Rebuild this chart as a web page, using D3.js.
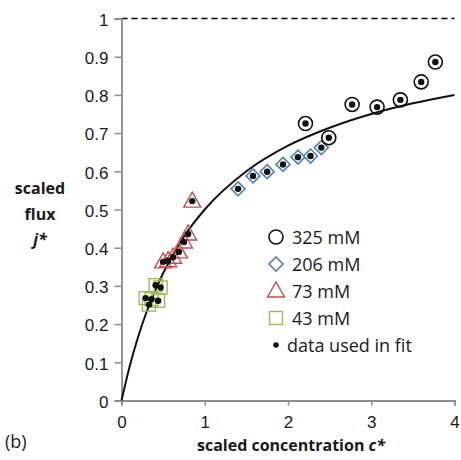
<!DOCTYPE html>
<html>
<head>
<meta charset="utf-8">
<script src="https://cdn.jsdelivr.net/npm/d3@7"></script>
<style>
  body { margin: 0; background: #fff; }
  svg { font-family: "Open Sans", "Noto Sans", sans-serif; }
</style>
</head>
<body>
<svg id="chart" width="461" height="460"></svg>
<script>
// scaled concentration c* / scaled flux j*
const c325 = [2.21, 2.49, 2.77, 3.07, 3.35, 3.60, 3.77];
const j325 = [0.725, 0.688, 0.775, 0.768, 0.787, 0.834, 0.886];
const c206 = [1.40, 1.58, 1.75, 1.94, 2.12, 2.27, 2.40];
const j206 = [0.554, 0.588, 0.599, 0.618, 0.637, 0.640, 0.662];
const c73 = [0.50, 0.56, 0.62, 0.69, 0.75, 0.80, 0.85];
const j73 = [0.363, 0.366, 0.375, 0.389, 0.415, 0.436, 0.522];
const c43 = [0.29, 0.33, 0.36, 0.41, 0.44, 0.47];
const j43 = [0.268, 0.251, 0.265, 0.302, 0.261, 0.296];

// fitted curve
const fitC = [0, 0.1, 0.2, 0.3, 0.5, 0.75, 1, 1.5, 2, 2.5, 3, 3.5, 4];
const fitJ = [0, 0.091, 0.167, 0.231, 0.333, 0.429, 0.5, 0.6, 0.667, 0.714, 0.75, 0.778, 0.8];

const xTicks = [0, 1, 2, 3, 4];
const yTicks = [0, 0.1, 0.2, 0.3, 0.4, 0.5, 0.6, 0.7, 0.8, 0.9, 1];
const legendLabels = ["325 mM", "206 mM", "73 mM", "43 mM", "data used in fit"];

const svg = d3.select("#chart");
const x = d3.scaleLinear().domain([0, 4]).range([121.5, 454.5]);
const y = d3.scaleLinear().domain([0, 1]).range([400.5, 18.5]);

const axisColor = "#8c8c8c";

// dashed limit at j* = 1
svg.append("line")
  .attr("x1", x(0)).attr("x2", x(4))
  .attr("y1", y(1)).attr("y2", y(1))
  .attr("stroke", "#000").attr("stroke-width", 1.5)
  .attr("stroke-dasharray", "6,4");

const xAxis = svg.append("g")
  .attr("transform", `translate(0,${y(0)})`)
  .call(d3.axisBottom(x).tickValues(xTicks).tickFormat(d3.format("d")).tickSize(5).tickPadding(10));
const yAxis = svg.append("g")
  .attr("transform", `translate(${x(0)},0)`)
  .call(d3.axisLeft(y).tickValues(yTicks).tickFormat(d => d === 0 || d === 1 ? d : d3.format(".1f")(d)).tickSize(7).tickPadding(6));

[xAxis, yAxis].forEach(g => {
  g.select(".domain").attr("stroke", axisColor).attr("stroke-width", 1.8);
  g.selectAll(".tick line").attr("stroke", axisColor).attr("stroke-width", 1.5);
  g.selectAll(".tick text").attr("fill", "#1a1a1a").style("font-size", "17px");
});
yAxis.selectAll(".tick text").attr("dy", "0.4em");

// fit line
const line = d3.line()
  .x((d, i) => x(fitC[i]))
  .y((d, i) => y(fitJ[i]))
  .curve(d3.curveMonotoneX);
svg.append("path")
  .datum(fitC)
  .attr("d", line)
  .attr("fill", "none")
  .attr("stroke", "#111")
  .attr("stroke-width", 2);

const blue = "#4f81bd", red = "#c0504d", green = "#9bbb59";

function marker(g, kind) {
  if (kind === "circle") {
    g.append("circle").attr("r", 7).attr("fill", "none").attr("stroke", "#111").attr("stroke-width", 1.6);
  } else if (kind === "diamond") {
    g.append("path").attr("d", "M0,-7L7,0L0,7L-7,0Z").attr("fill", "none").attr("stroke", blue).attr("stroke-width", 1.6);
  } else if (kind === "triangle") {
    g.append("path").attr("d", "M0,-9L8.5,6L-8.5,6Z").attr("fill", "none").attr("stroke", red).attr("stroke-width", 1.4);
  } else if (kind === "square") {
    g.append("rect").attr("x", -6.5).attr("y", -6.5).attr("width", 13).attr("height", 13)
      .attr("fill", "none").attr("stroke", green).attr("stroke-width", 1.4);
  }
}

const series = [
  { c: c43, j: j43, kind: "square" },
  { c: c73, j: j73, kind: "triangle" },
  { c: c206, j: j206, kind: "diamond" },
  { c: c325, j: j325, kind: "circle" }
];

series.forEach(s => {
  s.c.forEach((cv, i) => {
    const g = svg.append("g").attr("transform", `translate(${x(cv)},${y(s.j[i])})`);
    marker(g, s.kind);
  });
});
series.forEach(s => {
  svg.append("g").selectAll("circle")
    .data(s.c)
    .enter()
    .append("circle")
    .attr("cx", d => x(d))
    .attr("cy", (d, i) => y(s.j[i]))
    .attr("r", 3.2)
    .attr("fill", "#111");
});

// legend
const legendKinds = ["circle", "diamond", "triangle", "square", "dot"];
legendLabels.forEach((lab, i) => {
  const ly = 237 + i * 27;
  const g = svg.append("g").attr("transform", `translate(276,${ly})`);
  if (legendKinds[i] === "dot") {
    g.append("circle").attr("r", 2.8).attr("fill", "#111");
  } else {
    marker(g, legendKinds[i]);
  }
  svg.append("text")
    .attr("x", legendKinds[i] === "dot" ? 287 : 292)
    .attr("y", ly + 6.5)
    .attr("fill", "#1a1a1a")
    .style("font-size", "18px")
    .text(lab);
});

// axis titles
const xt = svg.append("text")
  .attr("x", 291).attr("y", 451)
  .attr("text-anchor", "middle")
  .style("font-size", "16px").style("font-weight", "bold")
  .attr("fill", "#1a1a1a");
xt.append("tspan").text("scaled concentration ");
xt.append("tspan").style("font-style", "italic").text("c*");

const yt = svg.append("text")
  .attr("text-anchor", "middle")
  .style("font-size", "16px").style("font-weight", "bold")
  .attr("fill", "#1a1a1a");
yt.append("tspan").attr("x", 40).attr("y", 194).text("scaled");
yt.append("tspan").attr("x", 40).attr("y", 220).text("flux");
yt.append("tspan").attr("x", 40).attr("y", 245).style("font-style", "italic").text("j*");

svg.append("text")
  .attr("x", 5).attr("y", 448)
  .style("font-size", "18px")
  .attr("fill", "#1a1a1a")
  .text("(b)");
</script>
</body>
</html>
